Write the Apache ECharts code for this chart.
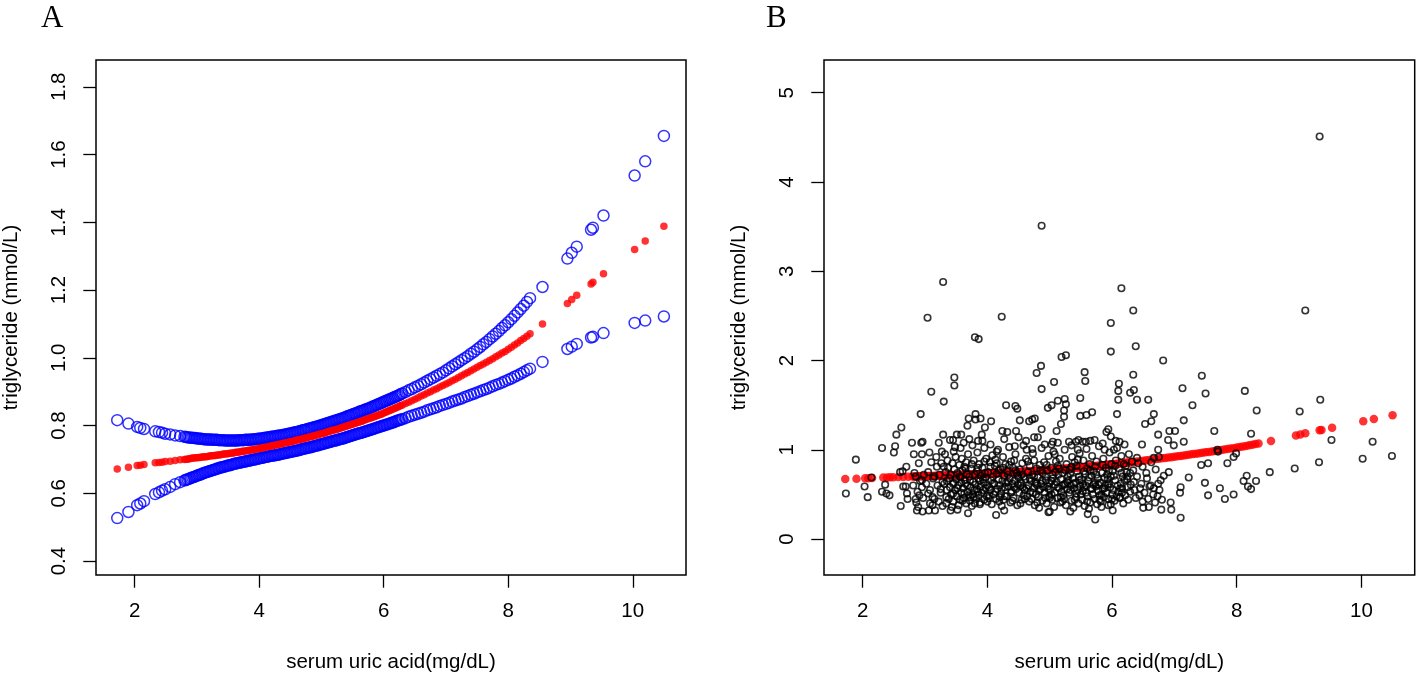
<!DOCTYPE html>
<html>
<head>
<meta charset="utf-8">
<script src="https://cdn.jsdelivr.net/npm/echarts@6.0.0/dist/echarts.min.js"></script>
<style>
html,body{margin:0;padding:0;background:#fff;}
#chart{width:1418px;height:678px;}
</style>
</head>
<body>
<div id="chart"></div>
<script>
// ---------- Data ----------
// serum uric acid (mg/dL) values at which the fitted curve is shown
const xFit = [
 1.72,1.90,2.04,2.09,2.15,2.33,2.39,2.44,2.49,2.57,2.65,2.73,
 2.80,2.85,2.90,2.95,3.00,3.05,3.10,3.15,3.20,3.25,3.30,3.35,3.40,3.45,3.50,3.55,3.60,3.65,3.70,3.75,
 3.80,3.85,3.90,3.95,4.00,4.05,4.10,4.15,4.20,4.25,4.30,4.35,4.40,4.45,4.50,4.55,4.60,4.65,4.70,4.75,
 4.80,4.85,4.90,4.95,5.00,5.05,5.10,5.15,5.20,5.25,5.30,5.35,5.40,5.45,5.50,5.55,5.60,5.65,5.70,5.75,
 5.80,5.85,5.90,5.95,6.00,6.05,6.10,6.15,6.20,6.25,6.30,6.35,6.40,6.45,6.50,6.55,6.60,6.65,6.70,6.75,
 6.80,6.85,6.90,6.95,7.00,7.05,7.10,7.15,7.20,7.25,7.30,7.35,7.40,7.45,7.50,7.55,7.60,7.65,7.70,7.75,
 7.80,7.85,7.90,7.95,8.00,8.05,8.10,8.15,8.20,8.25,8.30,8.35,
 8.55,8.95,9.02,9.10,9.33,9.36,9.53,10.03,10.20,10.50
];
// fitted triglyceride (mmol/L)
const fitTG = [
 .672,.677,.682,.683,.685,.690,.691,.692,.694,.695,.697,.699,
 .700,.701,.703,.704,.705,.706,.707,.708,.710,.711,.712,.713,.715,.716,.717,.718,.720,.721,.723,.724,
 .726,.727,.729,.730,.732,.734,.736,.738,.740,.742,.744,.746,.748,.750,.752,.754,.757,.759,.761,.763,
 .766,.768,.771,.773,.776,.778,.781,.784,.787,.789,.792,.795,.798,.801,.804,.807,.810,.813,.817,.820,
 .823,.826,.830,.833,.837,.841,.845,.849,.853,.857,.861,.865,.869,.873,.878,.882,.887,.891,.896,.900,
 .905,.909,.914,.918,.923,.927,.932,.937,.942,.947,.952,.957,.962,.967,.972,.977,.982,.987,.992,.997,
 1.003,1.008,1.014,1.019,1.025,1.031,1.038,1.044,1.051,1.057,1.064,1.071,
 1.100,1.160,1.172,1.185,1.218,1.223,1.248,1.320,1.345,1.388
];
// upper 95% CI
const upperTG = [
 .816,.806,.796,.793,.790,.783,.781,.779,.776,.774,.771,.769,
 .767,.765,.764,.763,.762,.761,.760,.759,.759,.758,.758,.757,.757,.756,.756,.756,.756,.756,.757,.757,
 .758,.758,.759,.760,.761,.762,.764,.765,.767,.768,.770,.771,.773,.775,.777,.779,.781,.783,.786,.788,
 .791,.793,.796,.798,.801,.804,.807,.810,.813,.816,.819,.822,.826,.829,.833,.836,.840,.843,.847,.850,
 .854,.858,.862,.866,.870,.874,.878,.882,.886,.890,.895,.899,.904,.908,.913,.917,.922,.927,.932,.937,
 .942,.947,.952,.957,.963,.969,.975,.981,.987,.993,.999,1.005,1.012,1.018,1.025,1.032,1.040,1.047,1.055,1.063,
 1.071,1.079,1.088,1.096,1.105,1.114,1.124,1.134,1.144,1.154,1.165,1.176,
 1.209,1.293,1.310,1.328,1.378,1.384,1.420,1.538,1.580,1.655
];
// lower 95% CI
const lowerTG = [
 .527,.545,.565,.570,.577,.598,.603,.608,.612,.619,.627,.633,
 .638,.641,.645,.648,.652,.655,.659,.662,.665,.668,.671,.674,.677,.679,.682,.684,.687,.689,.691,.693,
 .695,.697,.699,.701,.703,.705,.707,.709,.711,.712,.714,.716,.718,.720,.722,.724,.726,.728,.731,.733,
 .735,.737,.740,.742,.745,.747,.750,.752,.755,.757,.760,.762,.765,.768,.771,.774,.777,.779,.782,.785,
 .788,.791,.794,.797,.800,.803,.806,.809,.813,.816,.819,.822,.826,.829,.832,.835,.838,.841,.845,.848,
 .851,.854,.858,.861,.864,.867,.871,.874,.877,.880,.884,.887,.891,.894,.898,.901,.905,.908,.912,.916,
 .920,.923,.927,.931,.935,.939,.944,.948,.953,.958,.963,.968,
 .988,1.026,1.033,1.041,1.060,1.062,1.073,1.103,1.110,1.122
];
// further uric acid values in the dense middle range, with their curve readings
const xFitMid = [
 2.825,2.875,2.925,2.975,3.025,3.075,3.125,3.175,3.225,3.275,3.325,3.375,3.425,3.475,3.525,3.575,3.625,3.675,3.725,3.775,
 3.825,3.875,3.925,3.975,4.025,4.075,4.125,4.175,4.225,4.275,4.325,4.375,4.425,4.475,4.525,4.575,4.625,4.675,4.725,4.775,
 4.825,4.875,4.925,4.975,5.025,5.075,5.125,5.175,5.225,5.275,5.325,5.375,5.425,5.475,5.525,5.575,5.625,5.675,5.725,5.775,
 5.825,5.875,5.925,5.975,6.025,6.075,6.125,6.175,6.225,6.275
];
const fitTGMid = [
 .701,.702,.704,.705,.706,.707,.708,.709,.711,.712,.713,.714,.716,.717,.718,.719,.721,.722,.724,.725,
 .727,.728,.730,.731,.733,.735,.737,.739,.741,.743,.745,.747,.749,.751,.753,.756,.758,.760,.762,.765,
 .767,.770,.772,.775,.777,.780,.783,.786,.788,.791,.794,.797,.800,.803,.806,.809,.812,.815,.819,.822,
 .825,.828,.832,.835,.839,.843,.847,.851,.855,.859
];
const upperTGMid = [
 .766,.765,.764,.763,.762,.761,.760,.759,.759,.758,.758,.757,.757,.756,.756,.756,.756,.757,.757,.758,
 .758,.759,.760,.761,.762,.763,.765,.766,.768,.769,.771,.772,.774,.776,.778,.780,.782,.785,.787,.790,
 .792,.795,.797,.800,.803,.806,.809,.812,.815,.818,.821,.824,.828,.831,.835,.838,.842,.845,.849,.852,
 .856,.860,.864,.868,.872,.876,.880,.884,.888,.893
];
const lowerTGMid = [
 .640,.643,.647,.650,.654,.657,.661,.664,.667,.670,.673,.676,.678,.681,.683,.686,.688,.690,.692,.694,
 .696,.698,.700,.702,.704,.706,.708,.710,.712,.713,.715,.717,.719,.721,.723,.725,.727,.730,.732,.734,
 .736,.739,.741,.744,.746,.749,.751,.754,.756,.759,.761,.764,.767,.770,.773,.776,.778,.781,.784,.787,
 .790,.793,.796,.799,.802,.805,.808,.811,.815,.818
];
// observed points for panel B: [uric acid, triglyceride]
const observed = [
 [9.33,4.51],[4.87,3.51],[3.29,2.88],[3.04,2.48],[4.23,2.49],[6.15,2.81],[6.34,2.56],[9.10,2.56],
 [3.80,2.26],[3.86,2.24],[5.98,2.42],[6.38,2.16],[5.98,2.10],[6.82,2.00],[5.19,2.04],[5.26,2.06],
 [3.47,1.81],[3.47,1.72],[3.10,1.65],[3.30,1.54],[2.93,1.40],[2.62,1.25],[2.54,1.17],[4.86,1.94],
 [4.79,1.86],[4.87,1.68],[5.07,1.76],[5.56,1.87],[5.57,1.77],[5.49,1.58],[5.68,1.42],[5.59,1.39],
 [5.49,1.38],[6.11,1.74],[6.10,1.66],[6.34,1.84],[6.35,1.67],[6.29,1.64],[6.10,1.56],[6.40,1.56],
 [6.58,1.56],[6.08,1.40],[6.67,1.40],[6.63,1.32],[6.53,1.29],[6.74,1.17],[7.13,1.69],[7.44,1.83],
 [7.50,1.63],[7.29,1.50],[7.15,1.33],[8.13,1.66],[8.32,1.44],[8.23,1.18],[7.64,1.21],[9.01,1.43],
 [9.34,1.56],[9.52,1.11],[10.18,1.09],[10.02,0.90],[10.49,0.93],[9.32,0.86],[8.93,0.79],[8.53,0.75],
 [8.31,0.65],[8.16,0.71],[8.11,0.65],[8.18,0.59],[8.23,0.56],[7.95,0.50],[7.81,0.45],[7.73,0.57],
 [7.85,0.85],[7.95,0.92],[7.99,0.96],[7.70,0.98],[7.69,1.00],[7.43,0.83],[7.54,0.85],[7.49,0.63],
 [7.54,0.49],[7.23,0.69],[7.10,0.24],[7.09,0.52],[7.10,0.58],[6.94,0.41],[6.95,0.33],[7.15,1.09],
 [6.99,1.05],[6.92,1.21],[7.01,1.21],[6.90,1.11],[6.91,0.75],[6.83,0.71],[6.78,0.66],[6.74,0.62],
 [1.89,0.89],[1.73,0.51],[2.08,0.47],[2.03,0.59],[2.14,0.69],[2.31,1.02],[2.52,1.04],[2.50,0.97],
 [2.31,0.53],[2.38,0.51],[2.43,0.49],[2.36,0.61],[2.61,0.37],[2.60,0.75],[2.64,0.76],[2.70,0.81],
 [2.65,0.59],[2.69,0.59],[2.71,0.51],[2.72,0.45],[2.79,1.08],[2.82,0.95],[2.94,1.08],[2.96,1.09],
 [2.83,0.74],[2.86,0.41],[2.89,0.36],[2.87,0.32],[2.96,0.31],[3.06,0.32],[2.97,0.46],[2.91,0.49],
 [3.08,0.40],[3.16,0.32],[3.12,0.47],[3.07,0.97],[2.95,0.95],[3.22,1.08],[3.29,1.17],[3.19,0.81],
 [3.30,0.81],[3.28,0.37],[3.34,0.47],[3.41,0.32],[3.52,0.33],[3.45,0.62],[3.40,1.11],[3.45,1.11],
 [3.48,1.03],[3.51,1.17],[3.58,1.17],[3.68,1.27],[3.70,1.35],[3.71,1.12],[3.81,1.40],[3.81,1.34],
 [3.89,1.35],[3.91,1.17],[3.96,1.25],[4.06,1.32],[3.92,1.10],[3.69,0.29],[3.88,0.39],[4.14,0.27],
 [4.27,0.32],[4.30,1.50],[4.45,1.49],[4.48,1.46],[4.52,1.33],[4.67,1.32],[4.72,1.34],[4.76,1.35],
 [4.87,1.23],[4.97,1.47],[5.03,1.50],[5.13,1.55],[5.24,1.57],[5.26,1.51],[5.23,1.44],[5.23,1.37],
 [5.18,1.29],[5.11,1.21],[4.24,1.21],[4.32,1.20],[4.46,1.21],[4.50,1.14],[4.75,1.14],[4.81,1.14],
 [5.08,0.95],[5.13,1.08],[5.03,1.06],[5.31,1.09],[5.42,1.09],[5.46,1.11],[5.53,1.09],[5.58,1.09],
 [5.72,1.11],[5.91,1.20],[5.94,1.23],[5.98,1.15],[6.06,1.10],[6.20,1.06],[6.03,1.00],[5.88,1.00],
 [4.98,0.30],[5.00,0.31],[5.33,0.31],[5.61,0.28],[5.73,0.22],[5.94,0.38],[6.01,0.32],[6.50,0.35],
 [6.59,0.36],[6.69,0.41],[6.79,0.33],[6.49,0.42],[6.38,0.46],[6.13,0.47],[6.16,0.57],[6.24,0.67],
 [6.29,0.74],[6.34,0.77],[6.40,0.91],[6.49,0.81],[6.55,0.74],[6.60,0.59],[6.67,0.57],[6.73,0.48],
 [6.75,0.92],[6.74,1.00],[6.67,0.91],[6.63,0.86],
 [3.31,0.62],[3.33,0.75],[3.35,0.55],[3.36,0.88],[3.38,0.45],[3.39,0.68],[3.32,0.95],[3.37,0.80],[3.34,0.40],[3.40,0.58],
 [3.41,0.72],[3.42,0.50],[3.44,0.85],[3.45,0.42],[3.46,0.63],[3.47,0.78],[3.48,0.55],[3.49,0.92],[3.43,0.36],[3.50,0.67],[3.46,0.98],
 [3.51,0.48],[3.52,0.74],[3.53,0.60],[3.55,0.83],[3.56,0.44],[3.57,0.69],[3.58,0.52],[3.59,0.90],[3.54,0.38],[3.60,0.77],[3.57,1.02],
 [3.61,0.57],[3.62,0.46],[3.63,0.81],[3.64,0.66],[3.66,0.40],[3.67,0.73],[3.68,0.53],[3.69,0.95],[3.65,0.62],[3.70,0.49],[3.66,0.86],
 [3.71,0.70],[3.72,0.43],[3.73,0.58],[3.74,0.79],[3.76,0.50],[3.77,0.64],[3.78,0.88],[3.79,0.55],[3.75,0.37],[3.80,0.72],[3.76,1.05],[3.73,0.47],
 [3.81,0.61],[3.82,0.45],[3.83,0.76],[3.85,0.53],[3.86,0.68],[3.87,0.84],[3.88,0.41],[3.89,0.59],[3.84,0.97],[3.90,0.71],[3.86,0.49],
 [3.91,0.52],[3.92,0.80],[3.94,0.63],[3.95,0.44],[3.96,0.74],[3.97,0.57],[3.98,0.90],[3.99,0.48],[3.93,0.67],[4.00,0.60],
 [4.01,0.75],[4.02,0.46],[4.04,0.86],[4.05,0.55],[4.06,0.66],[4.07,0.39],[4.08,0.94],[4.09,0.70],[4.03,0.58],[4.10,0.50],
 [4.11,0.62],[4.12,0.82],[4.14,0.45],[4.15,0.73],[4.16,0.56],[4.17,1.00],[4.18,0.67],[4.19,0.42],[4.13,0.89],[4.20,0.60],
 [4.21,0.78],[4.22,0.51],[4.24,0.65],[4.25,0.92],[4.26,0.44],[4.27,0.71],[4.28,0.58],[4.29,0.84],[4.23,0.37],[4.30,0.63],
 [4.31,0.48],[4.32,0.76],[4.34,0.59],[4.35,1.03],[4.36,0.68],[4.37,0.41],[4.38,0.87],[4.39,0.54],[4.33,0.72],[4.40,0.62],
 [4.41,0.80],[4.42,0.46],[4.44,0.66],[4.45,0.95],[4.46,0.56],[4.47,0.74],[4.48,0.38],[4.49,0.61],[4.43,0.88],[4.50,0.69],
 [4.51,0.52],[4.52,0.78],[4.54,0.63],[4.55,0.44],[4.56,0.85],[4.57,0.58],[4.58,1.05],[4.59,0.70],[4.53,0.40],[4.60,0.55],
 [4.61,0.67],[4.62,0.90],[4.64,0.48],[4.65,0.75],[4.66,0.60],[4.67,0.42],[4.68,0.82],[4.69,0.53],[4.63,1.00],[4.70,0.65],
 [4.71,0.45],[4.72,0.72],[4.74,0.57],[4.75,0.88],[4.76,0.38],[4.77,0.64],[4.78,0.50],[4.79,0.79],[4.73,0.96],[4.80,0.60],
 [4.81,0.69],[4.82,0.47],[4.84,0.83],[4.85,0.56],[4.86,0.62],[4.87,1.02],[4.88,0.43],[4.89,0.74],[4.83,0.35],[4.90,0.58],
 [4.91,0.86],[4.92,0.52],[4.94,0.66],[4.95,0.40],[4.96,0.77],[4.97,0.59],[4.98,0.93],[4.99,0.48],[4.93,0.70],[5.00,0.63],
 [5.01,0.55],[5.02,0.80],[5.04,0.44],[5.05,0.68],[5.06,0.98],[5.07,0.36],[5.08,0.61],[5.09,0.75],[5.03,0.50],[5.10,0.87],
 [5.11,0.64],[5.12,0.46],[5.14,0.72],[5.15,0.57],[5.16,0.90],[5.17,0.41],[5.18,0.67],[5.19,0.53],[5.13,0.82],[5.20,0.60],
 [5.21,0.74],[5.22,0.49],[5.24,1.00],[5.25,0.62],[5.26,0.38],[5.27,0.84],[5.28,0.56],[5.29,0.70],[5.23,0.45],[5.30,0.66],
 [5.31,0.52],[5.32,0.78],[5.34,0.60],[5.35,0.43],[5.36,0.92],[5.37,0.68],[5.38,0.35],[5.39,0.57],[5.33,0.73],[5.40,0.86],
 [5.41,0.63],[5.42,0.47],[5.44,0.76],[5.45,0.55],[5.46,0.40],[5.47,0.70],[5.48,0.96],[5.49,0.59],[5.43,0.82],[5.50,0.50],
 [5.51,0.67],[5.52,0.44],[5.54,0.88],[5.55,0.58],[5.56,0.37],[5.57,0.73],[5.58,0.52],[5.59,1.01],[5.53,0.62],[5.60,0.79],
 [5.61,0.48],[5.62,0.65],[5.64,0.84],[5.65,0.41],[5.66,0.57],[5.67,0.71],[5.68,0.93],[5.69,0.50],[5.63,0.34],[5.70,0.61],
 [5.71,0.76],[5.72,0.45],[5.74,0.59],[5.75,0.87],[5.76,0.39],[5.77,0.68],[5.78,0.54],[5.79,1.04],[5.73,0.81],[5.80,0.49],
 [5.81,0.63],[5.82,0.42],[5.84,0.74],[5.85,0.56],[5.86,0.90],[5.87,0.47],[5.88,0.69],[5.89,0.60],[5.83,0.36],[5.90,0.80],
 [5.91,0.52],[5.92,0.72],[5.94,0.45],[5.95,0.62],[5.96,0.97],[5.97,0.58],[5.98,0.39],[5.99,0.84],[5.93,0.67],[6.00,0.50],
 [6.01,0.76],[6.02,0.55],[6.04,0.43],[6.05,0.66],[6.06,0.88],[6.07,0.48],[6.08,1.02],[6.09,0.60],[6.03,0.71],[6.10,0.53],
 [6.11,0.79],[6.12,0.46],[6.14,0.62],[6.15,0.93],[6.16,0.52],[6.17,0.70],[6.18,0.40],[6.19,0.84],[6.13,0.57],[6.20,0.66],
 [6.21,0.49],[6.23,0.75],[6.25,0.58],[6.27,0.95],[6.29,0.53],[6.22,0.82],[6.26,0.44],[6.30,0.61],
 [6.32,0.87],[6.36,0.55],[6.40,0.70],[6.44,0.49],[6.47,0.62],[6.42,0.85],[6.48,1.06],
 [6.52,0.52],[6.56,0.68],[6.58,0.45],[6.62,0.60],[6.66,0.50],[6.70,0.78],[6.76,0.55],[6.80,0.44],
 [3.02,0.62],[3.05,0.75],[3.08,0.55],[3.10,0.86],[3.13,0.68],[3.15,0.45],[3.18,0.92],[3.20,0.60],
 [3.23,0.72],[3.25,0.52],[3.27,0.98],[3.28,0.64],[3.12,0.38],[3.22,0.42],[3.26,0.85],
 [2.81,0.60],[2.85,0.70],[2.88,0.53],[2.92,0.65],[2.95,0.58],[2.98,0.72],[2.90,0.85],
 [3.62,1.08],[3.85,1.10],[4.05,1.06],[4.27,1.12],[4.44,1.04],[4.62,1.10],[4.92,1.06],[5.05,1.09],
 [5.35,1.05],[5.65,1.10],[5.85,1.07],[6.12,1.09],[4.15,0.98],[4.72,1.01],[5.45,1.00],[3.95,1.02],
 [3.52,0.57],[3.58,0.63],[3.63,0.51],[3.68,0.60],[3.72,0.66],[3.78,0.47],[3.83,0.56],[3.88,0.65],[3.93,0.55],[3.97,0.69],
 [4.03,0.49],[4.08,0.62],[4.13,0.53],[4.18,0.77],[4.23,0.56],[4.28,0.48],[4.33,0.64],[4.38,0.52],[4.43,0.58],[4.48,0.71],
 [4.53,0.60],[4.58,0.49],[4.63,0.57],[4.68,0.68],[4.73,0.52],[4.78,0.62],[4.83,0.55],[4.88,0.66],[4.93,0.46],[4.98,0.56],
 [5.03,0.65],[5.08,0.52],[5.13,0.58],[5.18,0.47],[5.23,0.61],[5.28,0.64],[5.33,0.55],[5.38,0.62],[5.43,0.51],[5.48,0.66],
 [5.53,0.54],[5.58,0.60],[5.63,0.69],[5.68,0.56],[5.73,0.63],[5.78,0.61],[5.83,0.50],[5.88,0.57],[5.93,0.61],[5.98,0.70],
 [3.55,0.70],[3.65,0.79],[3.75,0.84],[3.85,0.80],[3.95,0.87],[4.05,0.81],[4.15,0.85],[4.25,0.80],[4.35,0.83],[4.45,0.77],
 [4.55,0.72],[4.65,0.87],[4.75,0.70],[4.85,0.77],[4.95,0.83],[5.05,0.72],[5.15,0.79],[5.25,0.77],[5.35,0.81],[5.45,0.89],
 [5.55,0.76],[5.65,0.77],[5.75,0.72],[5.85,0.83],[5.95,0.77],[6.05,0.82],[6.15,0.74],[3.60,0.43],[3.80,0.40],[4.00,0.42],
 [4.20,0.47],[4.40,0.43],[4.60,0.45],[4.80,0.41],[5.00,0.46],[5.20,0.42],[5.40,0.44],[5.60,0.42],[5.80,0.44],[6.00,0.45],
 [3.45,0.51],[3.35,0.65],[3.25,0.56],[3.15,0.70],[3.05,0.51],[2.95,0.66],[2.85,0.45],[6.25,0.70],[6.35,0.64],[6.45,0.57]
];
const xTicks = [2, 4, 6, 8, 10];
const yTicksA = [0.4, 0.6, 0.8, 1.0, 1.2, 1.4, 1.6, 1.8];
const yTicksB = [0, 1, 2, 3, 4, 5];
const xTitle = 'serum uric acid(mg/dL)';
const yTitle = 'triglyceride (mmol/L)';

// ---------- Build ----------
const zip = (xs, ys) => xs.map((x, i) => [x, ys[i]]);
const upperPts = zip(xFit, upperTG).concat(zip(xFitMid, upperTGMid));
const lowerPts = zip(xFit, lowerTG).concat(zip(xFitMid, lowerTGMid));
const fitPts = zip(xFit, fitTG).concat(zip(xFitMid, fitTGMid));
const FONT = 'Liberation Sans, Arial, sans-serif';
const tickStyle = { show: true, inside: false, length: 12.7, lineStyle: { color: '#000', width: 1.3 } };

function xAxisCfg(grid) {
  return {
    gridIndex: grid, type: 'value', min: 1.379, max: 10.855,
    splitLine: { show: false }, axisLine: { show: false, onZero: false },
    axisTick: Object.assign({ customValues: xTicks }, tickStyle),
    axisLabel: { customValues: xTicks, fontSize: 20.5, color: '#000', fontFamily: FONT, margin: 26 },
    name: xTitle, nameLocation: 'middle', nameGap: 77,
    nameTextStyle: { fontSize: 20.5, color: '#000', fontFamily: FONT }
  };
}
function yAxisCfg(grid, min, max, ticks, fmt) {
  return {
    gridIndex: grid, type: 'value', min: min, max: max,
    splitLine: { show: false }, axisLine: { show: false, onZero: false },
    axisTick: Object.assign({ customValues: ticks }, tickStyle),
    axisLabel: { customValues: ticks, fontSize: 20.5, color: '#000', fontFamily: FONT, rotate: 90, margin: 26,
                 formatter: fmt },
    name: yTitle, nameLocation: 'middle', nameGap: 74,
    nameTextStyle: { fontSize: 20.5, color: '#000', fontFamily: FONT }
  };
}

const chart = echarts.init(document.getElementById('chart'), null, { renderer: 'canvas' });
chart.setOption({
  animation: false,
  backgroundColor: '#fff',
  title: [
    { text: 'A', left: 36, top: -2, textStyle: { fontFamily: 'Liberation Serif, Times New Roman, serif', fontSize: 31, fontWeight: 'normal', color: '#000' } },
    { text: 'B', left: 761, top: -2, textStyle: { fontFamily: 'Liberation Serif, Times New Roman, serif', fontSize: 31, fontWeight: 'normal', color: '#000' } }
  ],
  grid: [
    { left: 95.3, top: 60, width: 590.7, height: 515.7, show: true, borderColor: '#000', borderWidth: 1.5, backgroundColor: 'transparent' },
    { left: 824, top: 60, width: 590.7, height: 516.5, show: true, borderColor: '#000', borderWidth: 1.5, backgroundColor: 'transparent' }
  ],
  xAxis: [xAxisCfg(0), xAxisCfg(1)],
  yAxis: [
    yAxisCfg(0, 0.359, 1.879, yTicksA, v => v.toFixed(1)),
    yAxisCfg(1, -0.402, 5.366, yTicksB, v => String(Math.round(v)))
  ],
  series: [
    { type: 'scatter', xAxisIndex: 0, yAxisIndex: 0, data: upperPts, symbol: 'circle', symbolSize: 11,
      itemStyle: { color: 'rgba(0,0,0,0)', borderColor: '#0000ff', borderWidth: 1.5 }, z: 2, silent: true },
    { type: 'scatter', xAxisIndex: 0, yAxisIndex: 0, data: lowerPts, symbol: 'circle', symbolSize: 11,
      itemStyle: { color: 'rgba(0,0,0,0)', borderColor: '#0000ff', borderWidth: 1.5 }, z: 2, silent: true },
    { type: 'scatter', xAxisIndex: 0, yAxisIndex: 0, data: fitPts, symbol: 'circle', symbolSize: 7.5,
      itemStyle: { color: '#ff0000' }, z: 3, silent: true },
    { type: 'scatter', xAxisIndex: 1, yAxisIndex: 1, data: fitPts, symbol: 'circle', symbolSize: 8.5,
      itemStyle: { color: '#ff0000' }, z: 2, silent: true },
    { type: 'scatter', xAxisIndex: 1, yAxisIndex: 1, data: observed, symbol: 'circle', symbolSize: 6.5,
      itemStyle: { color: 'rgba(0,0,0,0)', borderColor: '#000', borderWidth: 1.6 }, z: 3, silent: true }
  ]
});
</script>
</body>
</html>
